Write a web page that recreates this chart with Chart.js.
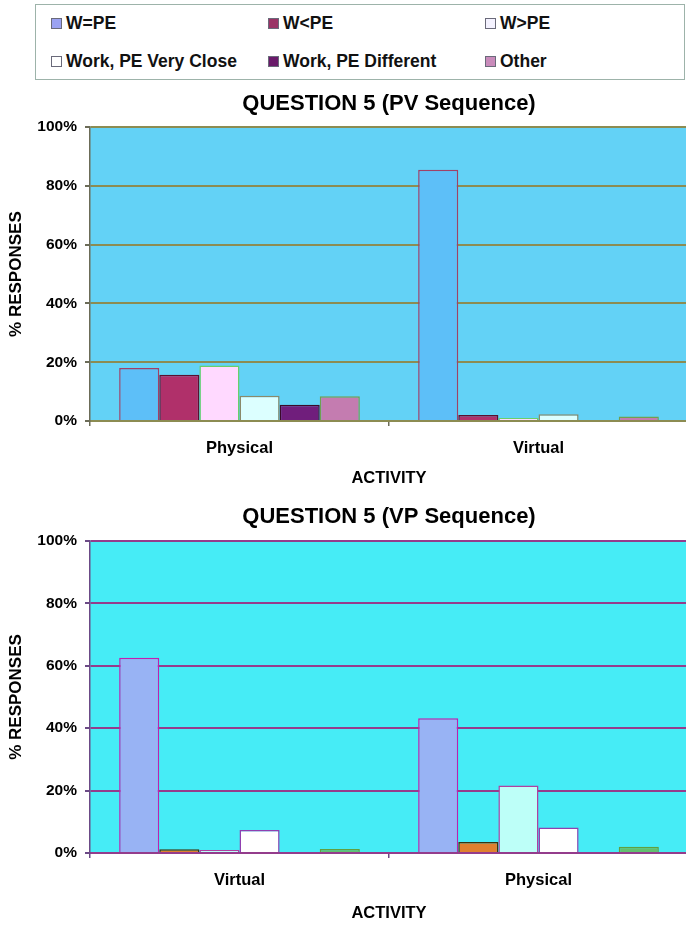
<!DOCTYPE html>
<html>
<head>
<meta charset="utf-8">
<title>Question 5 responses</title>
<script src="https://cdn.jsdelivr.net/npm/chart.js@4.4.1/dist/chart.umd.min.js"></script>
<style>
  html, body { margin: 0; padding: 0; background: #ffffff; overflow: hidden; width: 686px; height: 925px; }
  #legend {
    position: absolute; left: 35px; top: 4px; width: 650px; height: 76px;
    border: 1.5px solid #9db3aa; box-sizing: border-box;
    font: bold 17.5px "Liberation Sans", Arial, sans-serif; color: #111;
  }
  .item { position: absolute; display: flex; align-items: center; white-space: nowrap; height: 20px; }
  .swatch { width: 9px; height: 9px; border: 1px solid #6a6a7a; margin-right: 4px; flex: none; }
  .wrap { position: absolute; left: 0; width: 690px; }
</style>
</head>
<body>
<div id="legend"></div>
<div class="wrap" style="top:84px;height:408px"><canvas id="pv"></canvas></div>
<div class="wrap" style="top:492px;height:433px"><canvas id="vp"></canvas></div>

<script>
// Response categories (legend order)
const seriesNames = ['W=PE', 'W<PE', 'W>PE', 'Work, PE Very Close', 'Work, PE Different', 'Other'];

// PV sequence: activities in the order they were done
const pvActivities = ['Physical', 'Virtual'];
const pvEqual      = [18, 85.5];
const pvLess       = [15.7, 2];
const pvGreater    = [18.9, 1];
const pvClose      = [8.6, 2.3];
const pvDifferent  = [5.5, 0];
const pvOther      = [8.4, 1.5];

// VP sequence
const vpActivities = ['Virtual', 'Physical'];
const vpEqual      = [62.6, 43.2];
const vpLess       = [1.2, 3.5];
const vpGreater    = [1, 21.6];
const vpClose      = [7.4, 8.2];
const vpDifferent  = [0, 0];
const vpOther      = [1.3, 2];

const yTickLabels = ['0%', '20%', '40%', '60%', '80%', '100%'];

const FONT = '"Liberation Sans", Arial, sans-serif';

// Legend swatches and bar colours
const legendColors = ['#9ba2f2', '#9a3466', '#f4f2ff', '#ffffff', '#6a1a6a', '#c98bbb'];
const pvFill   = ['#5dbff8', '#b0306a', '#ffd9ff', '#dcffff', '#701e7c', '#c47cb0'];
const pvBorder = ['#a04068', '#5a1030', '#6ad06a', '#8a8a6a', '#3a0a2a', '#70a050'];
const vpFill   = ['#98b3f4', '#e0802e', '#bdfff8', '#ffffff', '#701e7c', '#62c070'];
const vpBorder = ['#c020b0', '#3a3410', '#b040a0', '#9040b0', '#3a0a2a', '#60a040'];

// HTML legend: three columns, two rows
const legend = document.getElementById('legend');
seriesNames.forEach((name, i) => {
  const col = i % 3, row = Math.floor(i / 3);
  const el = document.createElement('div');
  el.className = 'item';
  el.style.left = (15 + col * 217) + 'px';
  el.style.top = (8 + row * 38) + 'px';
  const sw = document.createElement('span');
  sw.className = 'swatch';
  sw.style.background = legendColors[i];
  const tx = document.createElement('span');
  tx.textContent = name;
  el.appendChild(sw); el.appendChild(tx);
  legend.appendChild(el);
});

// Fill the plotting area behind the bars
const plotBackground = {
  id: 'plotBackground',
  beforeDraw(chart, args, opts) {
    const { ctx, chartArea: a } = chart;
    ctx.save();
    ctx.fillStyle = opts.color;
    ctx.fillRect(a.left, a.top, a.right - a.left, a.bottom - a.top);
    ctx.restore();
  }
};

function buildChart(id, cfg) {
  const values = cfg.values;
  return new Chart(document.getElementById(id), {
    type: 'bar',
    data: {
      labels: cfg.labels,
      datasets: seriesNames.map((name, i) => ({
        label: name,
        data: values[i],
        backgroundColor: cfg.fill[i],
        borderColor: cfg.border[i],
        borderWidth: 1.5,
        categoryPercentage: 0.805,
        barPercentage: 1.0
      }))
    },
    options: {
      responsive: true,
      maintainAspectRatio: false,
      animation: false,
      layout: { padding: { left: 0, right: 2, top: 0, bottom: 0 } },
      plugins: {
        legend: { display: false },
        tooltip: { enabled: false },
        plotBackground: { color: cfg.bg },
        title: {
          display: true,
          text: cfg.title,
          fullSize: false,
          color: '#000',
          font: { family: FONT, size: 22, weight: 'bold' },
          padding: { top: cfg.titleTop, bottom: cfg.titleBottom }
        }
      },
      scales: {
        x: {
          grid: { display: true, drawOnChartArea: false, tickLength: 5, color: cfg.axis, lineWidth: 1.5 },
          border: { display: true, color: cfg.grid, width: 2 },
          ticks: { color: '#000', padding: 13, font: { family: FONT, size: 16.5, weight: 'bold' } },
          title: {
            display: true, text: 'ACTIVITY', color: '#000',
            font: { family: FONT, size: 16.5, weight: 'bold' },
            padding: { top: 0, bottom: cfg.xTitleBottom }
          },
          afterFit(s) { s.height = cfg.xHeight; }
        },
        y: {
          min: 0, max: 100,
          grid: { color: cfg.grid, lineWidth: 2, tickLength: 5, tickColor: cfg.axis },
          border: { display: true, color: cfg.axis, width: 1.5 },
          ticks: {
            stepSize: 20, color: '#000', padding: 8,
            font: { family: FONT, size: 15.5, weight: 'bold' },
            callback: (v, idx) => yTickLabels[idx]
          },
          title: {
            display: true, text: '% RESPONSES', color: '#000',
            font: { family: FONT, size: 17, weight: 'bold' },
            padding: { top: 6.3, bottom: 0 }
          },
          afterFit(s) { s.width = 90; }
        }
      }
    },
    plugins: [plotBackground]
  });
}

buildChart('pv', {
  title: 'QUESTION 5 (PV Sequence)',
  labels: pvActivities,
  values: [pvEqual, pvLess, pvGreater, pvClose, pvDifferent, pvOther],
  fill: pvFill, border: pvBorder,
  bg: '#63d2f6', grid: '#8c8c52', axis: '#6c6c58',
  titleTop: 6.4, titleBottom: 10.4,
  xHeight: 71, xTitleBottom: 4.1
});

buildChart('vp', {
  title: 'QUESTION 5 (VP Sequence)',
  labels: vpActivities,
  values: [vpEqual, vpLess, vpGreater, vpClose, vpDifferent, vpOther],
  fill: vpFill, border: vpBorder,
  bg: '#46ecf6', grid: '#943c8c', axis: '#6c4a86',
  titleTop: 11.8, titleBottom: 10.8,
  xHeight: 72, xTitleBottom: 2.1
});
</script>
</body>
</html>
